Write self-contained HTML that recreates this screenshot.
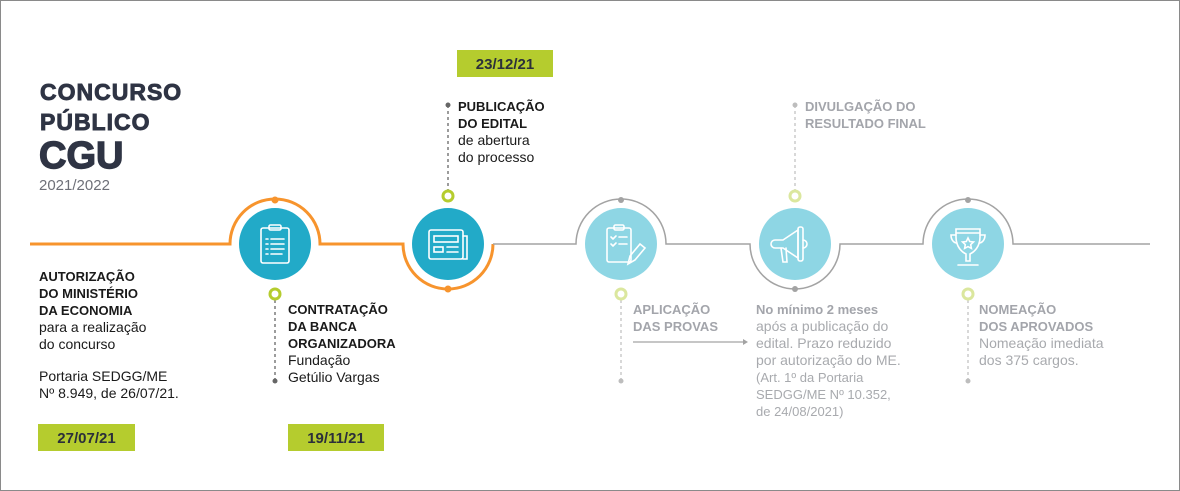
<!DOCTYPE html>
<html><head><meta charset="utf-8"><style>
html,body{margin:0;padding:0;background:#fff}
svg{display:block}
text{font-family:"Liberation Sans","DejaVu Sans",sans-serif}
.b{font-weight:bold;font-size:13px;fill:#1a1a1a}
.n{font-size:14px;fill:#1a1a1a}
.gb{font-weight:bold;font-size:13px;fill:#a3a5ab}
.gn{font-size:14px;fill:#a8aaae}
.d{font-weight:bold;font-size:15px;fill:#2b2f3a}
.t{font-weight:bold;fill:#2f3444;stroke:#2f3444}
</style></head><body>
<svg width="1180" height="491" viewBox="0 0 1180 491">
<rect x="0.5" y="0.5" width="1179" height="490" fill="#fff" stroke="#8a8a8a"/>
<text x="40" y="100" class="t" style="font-size:23px;stroke-width:0.9px;letter-spacing:1px">CONCURSO</text>
<text x="40" y="130" class="t" style="font-size:23px;stroke-width:0.9px;letter-spacing:1px">PÚBLICO</text>
<text x="39" y="168" class="t" style="font-size:38px;stroke-width:1.4px">CGU</text>
<text x="39" y="190" style="font-size:15px;fill:#6e7078">2021/2022</text>
<path d="M30 244 H230 A45 45 0 0 1 320 244 H403 A45 45 0 0 0 493 244" fill="none" stroke="#f7942d" stroke-width="3"/>
<path d="M493 244 H576 A45 45 0 0 1 666 244 H750 A45 45 0 0 0 840 244 H923 A45 45 0 0 1 1013 244 H1150" fill="none" stroke="#a3a3a3" stroke-width="1.5"/>
<g stroke="#666" stroke-width="1.3" stroke-dasharray="3,3" fill="none">
<line x1="275" y1="300" x2="275" y2="381"/>
<line x1="448" y1="105" x2="448" y2="190"/>
</g>
<g stroke="#c2c2c2" stroke-width="1.3" stroke-dasharray="3,3" fill="none">
<line x1="621" y1="300" x2="621" y2="381"/>
<line x1="795" y1="105" x2="795" y2="190"/>
<line x1="968" y1="300" x2="968" y2="381"/>
</g>
<g fill="#666"><circle cx="275" cy="381" r="2.5"/><circle cx="448" cy="105" r="2.5"/></g>
<g fill="#bdbdbd"><circle cx="621" cy="381" r="2.5"/><circle cx="795" cy="105" r="2.5"/><circle cx="968" cy="381" r="2.5"/></g>
<circle cx="275" cy="200" r="3.5" fill="#f7942d"/>
<circle cx="448" cy="289" r="3.5" fill="#f7942d"/>
<circle cx="621" cy="200" r="3" fill="#a3a3a3"/>
<circle cx="795" cy="289" r="3" fill="#a3a3a3"/>
<circle cx="968" cy="200" r="3" fill="#a3a3a3"/>
<g fill="#fff" stroke-width="3">
<circle cx="275" cy="294" r="5" stroke="#b5cc2e"/>
<circle cx="448" cy="196" r="5" stroke="#b5cc2e"/>
<circle cx="621" cy="294" r="5" stroke="#dbe79e"/>
<circle cx="795" cy="196" r="5" stroke="#dbe79e"/>
<circle cx="968" cy="294" r="5" stroke="#dbe79e"/>
</g>
<circle cx="275" cy="244" r="36" fill="#22aac8"/>
<circle cx="448" cy="244" r="36" fill="#22aac8"/>
<circle cx="621" cy="244" r="36" fill="#8ed6e4"/>
<circle cx="795" cy="244" r="36" fill="#8ed6e4"/>
<circle cx="968" cy="244" r="36" fill="#8ed6e4"/>
<g fill="none" stroke="#fff" stroke-width="1.6" stroke-linecap="round">
<rect x="261" y="228" width="28" height="35" rx="2"/>
<rect x="269" y="225" width="12" height="5" rx="1.5"/>
<line x1="266" y1="239" x2="268" y2="239"/><line x1="271" y1="239" x2="284" y2="239"/>
<line x1="266" y1="244" x2="268" y2="244"/><line x1="271" y1="244" x2="284" y2="244"/>
<line x1="266" y1="249" x2="268" y2="249"/><line x1="271" y1="249" x2="284" y2="249"/>
<line x1="266" y1="254" x2="268" y2="254"/><line x1="271" y1="254" x2="282" y2="254"/>
<rect x="429" y="230" width="34" height="29" rx="2"/>
<path d="M463 236 H467 V259 H463"/>
<rect x="434" y="236" width="24" height="6"/>
<rect x="434" y="247" width="9" height="5"/>
<line x1="447" y1="247" x2="458" y2="247"/><line x1="447" y1="252" x2="458" y2="252"/>
<rect x="607" y="228" width="24" height="34" rx="2"/>
<rect x="614" y="225" width="10" height="5" rx="1.5"/>
<path d="M611 237 l2 2 l3 -3 M611 244 l2 2 l3 -3"/>
<line x1="619" y1="237" x2="627" y2="237"/><line x1="619" y1="244" x2="627" y2="244"/>
<path d="M628 264 l2 -8 l10 -12 l5 4 l-10 12 z"/>
<path d="M775 240 h8 l15 -10 v28 l-15 -10 h-8 a4 4 0 0 1 0 -8 z"/>
<rect x="798" y="227" width="5" height="34" rx="2"/>
<path d="M803 240 a4 4 0 0 1 0 8"/>
<path d="M781 248 l2 14 h4 l-1 -14"/>
<path d="M956 229 h24 v8 c0 10 -6 15 -10 17 l0 7 h-4 l0 -7 c-4 -2 -10 -7 -10 -17 z"/>
<line x1="956" y1="233" x2="980" y2="233"/>
<path d="M956 235 h-5 c0 5 3 8 6 8 M980 235 h5 c0 5 -3 8 -6 8"/>
<line x1="958" y1="265" x2="978" y2="265"/>
<path d="M968 238 l1.7 3.5 3.8 .5 -2.8 2.6 .7 3.8 -3.4 -1.8 -3.4 1.8 .7 -3.8 -2.8 -2.6 3.8 -.5 z"/>
</g>
<line x1="633" y1="342" x2="744" y2="342" stroke="#a3a3a3" stroke-width="1.3"/>
<path d="M743 339 L748 342 L743 345 z" fill="#a3a3a3"/>
<rect x="38" y="424" width="97" height="27" fill="#b5cc2e"/>
<text x="86.5" y="443" text-anchor="middle" class="d">27/07/21</text>
<rect x="288" y="424" width="96" height="27" fill="#b5cc2e"/>
<text x="336" y="443" text-anchor="middle" class="d">19/11/21</text>
<rect x="457" y="50" width="96" height="27" fill="#b5cc2e"/>
<text x="505" y="69" text-anchor="middle" class="d">23/12/21</text>
<text class="b" x="39" y="281">AUTORIZAÇÃO</text>
<text class="b" x="39" y="298">DO MINISTÉRIO</text>
<text class="b" x="39" y="315">DA ECONOMIA</text>
<text class="n" x="39" y="332">para a realização</text>
<text class="n" x="39" y="349">do concurso</text>
<text class="n" x="39" y="381">Portaria SEDGG/ME</text>
<text class="n" x="39" y="398">Nº 8.949, de 26/07/21.</text>
<text class="b" x="288" y="314">CONTRATAÇÃO</text>
<text class="b" x="288" y="331">DA BANCA</text>
<text class="b" x="288" y="348">ORGANIZADORA</text>
<text class="n" x="288" y="365">Fundação</text>
<text class="n" x="288" y="382">Getúlio Vargas</text>
<text class="b" x="458" y="111">PUBLICAÇÃO</text>
<text class="b" x="458" y="128">DO EDITAL</text>
<text class="n" x="458" y="145">de abertura</text>
<text class="n" x="458" y="162">do processo</text>
<text class="gb" x="805" y="111">DIVULGAÇÃO DO</text>
<text class="gb" x="805" y="128">RESULTADO FINAL</text>
<text class="gb" x="633" y="314">APLICAÇÃO</text>
<text class="gb" x="633" y="331">DAS PROVAS</text>
<text class="gb" x="756" y="314">No mínimo 2 meses</text>
<text class="gn" x="756" y="331">após a publicação do</text>
<text class="gn" x="756" y="348">edital. Prazo reduzido</text>
<text class="gn" x="756" y="365">por autorização do ME.</text>
<text class="gn" x="756" y="382" style="font-size:13px">(Art. 1º da Portaria</text>
<text class="gn" x="756" y="399" style="font-size:13px">SEDGG/ME Nº 10.352,</text>
<text class="gn" x="756" y="416" style="font-size:13px">de 24/08/2021)</text>
<text class="gb" x="979" y="314">NOMEAÇÃO</text>
<text class="gb" x="979" y="331">DOS APROVADOS</text>
<text class="gn" x="979" y="348">Nomeação imediata</text>
<text class="gn" x="979" y="365">dos 375 cargos.</text>
</svg>
</body></html>
